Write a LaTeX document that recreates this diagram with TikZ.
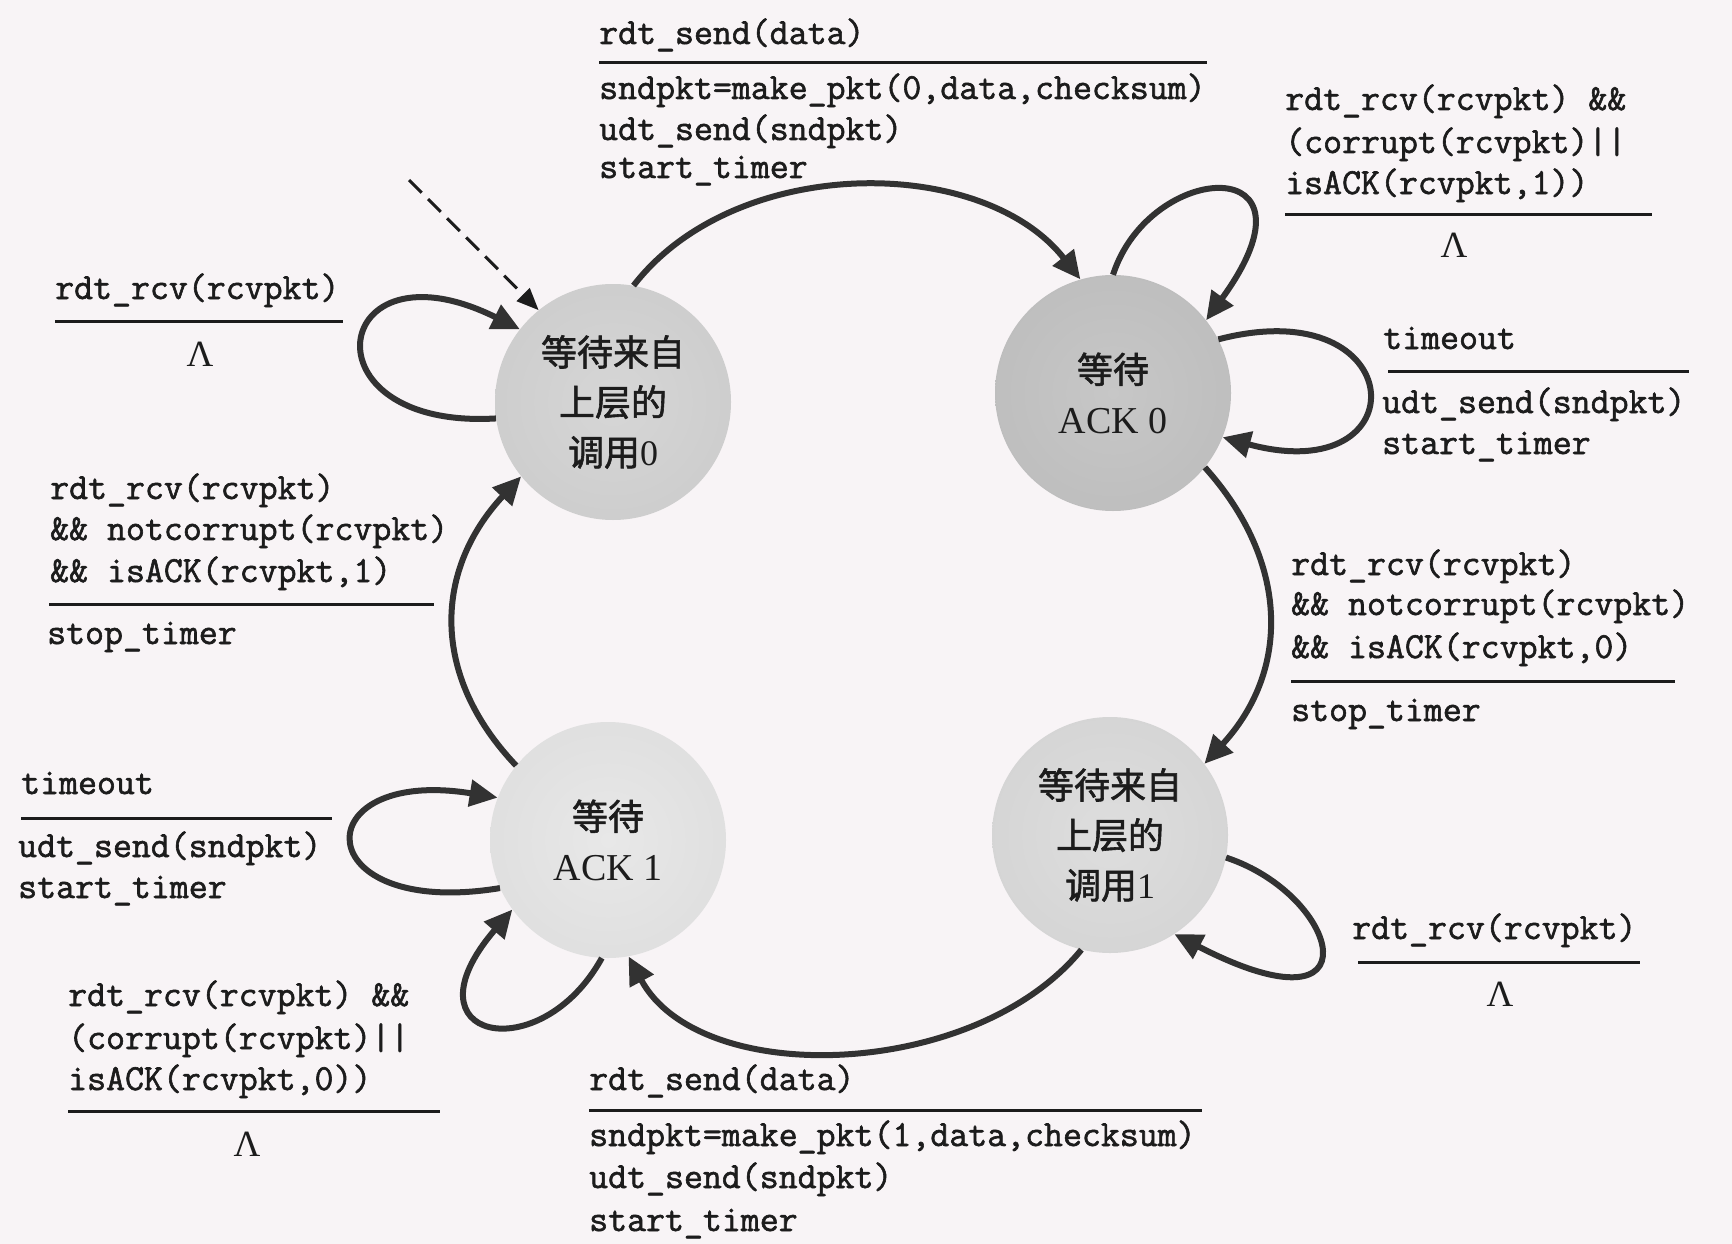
\documentclass[tikz,border=0pt]{standalone}
\usepackage{fontspec}
\setmainfont{Liberation Serif}
\newfontfamily\mono[FakeBold=1.6]{Latin Modern Mono}
\newfontfamily\cjk[FakeBold=1.6]{Noto Sans CJK SC}
\usetikzlibrary{arrows.meta}
\definecolor{paper}{RGB}{248,244,246}
\definecolor{ink}{RGB}{28,28,28}
\definecolor{arrowc}{RGB}{50,50,50}
\pgfdeclareradialshading{ballCa}{\pgfpoint{0bp}{0bp}}{color(0bp)=(black!16); color(30bp)=(black!20); color(50bp)=(black!30)}
\pgfdeclareradialshading{ballAa}{\pgfpoint{0bp}{0bp}}{color(0bp)=(black!22); color(30bp)=(black!26); color(50bp)=(black!34)}
\pgfdeclareradialshading{ballAb}{\pgfpoint{0bp}{0bp}}{color(0bp)=(black!9); color(30bp)=(black!13); color(50bp)=(black!23)}
\pgfdeclareradialshading{ballCb}{\pgfpoint{0bp}{0bp}}{color(0bp)=(black!13); color(30bp)=(black!17); color(50bp)=(black!27)}
\tikzset{
  lbl/.style={font=\mono\fontsize{36.8}{40}\selectfont, anchor=west, inner sep=0pt, text height=24pt, text depth=8pt, text=ink},
  state/.style={circle, minimum size=236pt, inner sep=0pt, align=center, font=\cjk\fontsize{36}{50}\selectfont, text=ink},
  tr/.style={draw=arrowc, line width=6pt, -{Triangle[length=28pt,width=26pt]}},
  initarr/.style={draw=ink, line width=3pt, dash pattern=on 18pt off 9pt, -{Triangle[length=22pt,width=18pt]}},
  rulel/.style={draw=ink, line width=3pt},
  lam/.style={font=\fontsize{37}{40}\selectfont, inner sep=0pt, text=ink},
}
\begin{document}
\begin{tikzpicture}[x=1pt,y=-1pt]
\fill[paper] (0,0) rectangle (1732,1244);
\useasboundingbox (0,0) rectangle (1732,1244);

% states
\node[state, shade, shading=ballCa] (C0) at (613,402) {等待来自\\上层的\\调用{\rmfamily 0}};
\node[state, shade, shading=ballAa] (A0) at (1113,393) {等待\\{\rmfamily\fontsize{38}{50}\selectfont ACK 0}};
\node[state, shade, shading=ballAb] (A1) at (608,840) {等待\\{\rmfamily\fontsize{38}{50}\selectfont ACK 1}};
\node[state, shade, shading=ballCb] (C1) at (1110,835) {等待来自\\上层的\\调用{\rmfamily 1}};

% initial dashed arrow
\coordinate (init) at (409,180);
\draw[initarr] (init) -- (C0.129);

% transitions between states
\draw[tr] (C0.80) .. controls (735,154) and (982,154) .. (A0.106);
\draw[tr] (A0.-39) .. controls (1289,561) and (1291,670) .. (C1.37);
\draw[tr] (C1.256) .. controls (975,1080) and (700,1089) .. (A1.280);
\draw[tr] (A1.141) .. controls (429,674) and (435,569) .. (C0.219);

% self loops
\draw[tr] (C0.188) .. controls (300,430) and (330,235) .. (C0.142);
\draw[tr] (A0.90) .. controls (1150,160) and (1330,150) .. (A0.38);
\draw[tr] (A0.27) .. controls (1412,289) and (1421,491) .. (A0.-22);
\draw[tr] (C1.-11) .. controls (1340,895) and (1380,1040) .. (C1.-57);
\draw[tr] (A1.204) .. controls (306,920) and (303,766) .. (A1.159);
\draw[tr] (A1.267) .. controls (540,1070) and (400,1040) .. (A1.216);

% top center label
\node[lbl] (t1) at (599,36) {rdt\_send(data)};
\draw[rulel] (599,63) -- (1207,63);
\node[lbl] (t2) at (599,91) {sndpkt=make\_pkt(0,data,checksum)};
\node[lbl] (t3) at (599,132) {udt\_send(sndpkt)};
\node[lbl] (t4) at (599,170) {start\_timer};

% top right label
\node[lbl] (r1) at (1285,102) {rdt\_rcv(rcvpkt) \&\&};
\node[lbl] (r2) at (1285,145) {(corrupt(rcvpkt)||};
\node[lbl] (r3) at (1285,186) {isACK(rcvpkt,1))};
\draw[rulel] (1285,214) -- (1652,214);
\node[lam] (r4) at (1454,245) {Λ};

% left top label
\node[lbl] (lt1) at (55,291) {rdt\_rcv(rcvpkt)};
\draw[rulel] (55,321) -- (343,321);
\node[lam] (lt2) at (200,354) {Λ};

% right timeout label
\node[lbl] (rt1) at (1383,341) {timeout};
\draw[rulel] (1388,371) -- (1689,371);
\node[lbl] (rt2) at (1382,405) {udt\_send(sndpkt)};
\node[lbl] (rt3) at (1382,446) {start\_timer};

% left middle label
\node[lbl] (lm1) at (50,491) {rdt\_rcv(rcvpkt)};
\node[lbl] (lm2) at (50,532) {\&\& notcorrupt(rcvpkt)};
\node[lbl] (lm3) at (50,574) {\&\& isACK(rcvpkt,1)};
\draw[rulel] (49,604) -- (434,604);
\node[lbl] (lm4) at (47,636) {stop\_timer};

% right middle label
\node[lbl] (rm1) at (1291,567) {rdt\_rcv(rcvpkt)};
\node[lbl] (rm2) at (1291,607) {\&\& notcorrupt(rcvpkt)};
\node[lbl] (rm3) at (1291,650) {\&\& isACK(rcvpkt,0)};
\draw[rulel] (1291,681) -- (1675,681);
\node[lbl] (rm4) at (1291,713) {stop\_timer};

% left timeout label
\node[lbl] (lto1) at (21,786) {timeout};
\draw[rulel] (21,818) -- (332,818);
\node[lbl] (lto2) at (18,849) {udt\_send(sndpkt)};
\node[lbl] (lto3) at (18,890) {start\_timer};

% bottom left label
\node[lbl] (bl1) at (68,998) {rdt\_rcv(rcvpkt) \&\&};
\node[lbl] (bl2) at (68,1041) {(corrupt(rcvpkt)||};
\node[lbl] (bl3) at (68,1082) {isACK(rcvpkt,0))};
\draw[rulel] (68,1111) -- (440,1111);
\node[lam] (bl4) at (247,1144) {Λ};

% bottom center label
\node[lbl] (b1) at (589,1082) {rdt\_send(data)};
\draw[rulel] (589,1110) -- (1202,1110);
\node[lbl] (b2) at (589,1138) {sndpkt=make\_pkt(1,data,checksum)};
\node[lbl] (b3) at (589,1180) {udt\_send(sndpkt)};
\node[lbl] (b4) at (589,1223) {start\_timer};

% right bottom label
\node[lbl] (rb1) at (1352,931) {rdt\_rcv(rcvpkt)};
\draw[rulel] (1358,962) -- (1640,962);
\node[lam] (rb2) at (1500,994) {Λ};
\end{tikzpicture}
\end{document}
